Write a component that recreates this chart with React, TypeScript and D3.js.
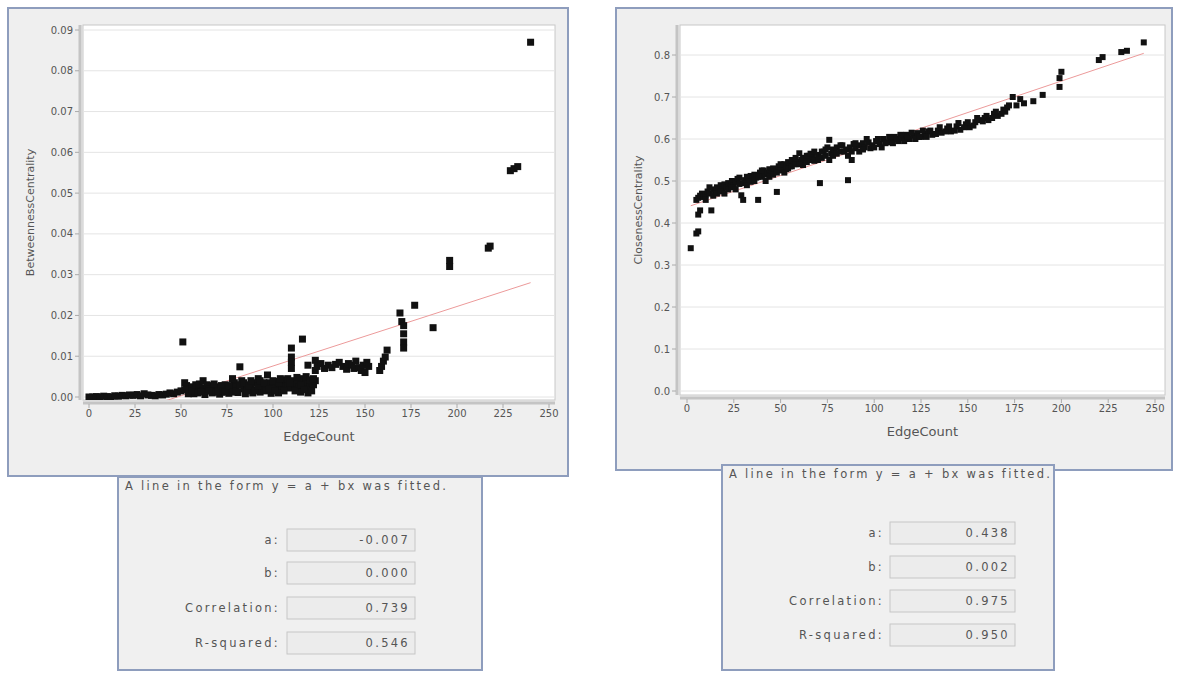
import React from "react";
import * as d3 from "d3";

// EdgeCount vs BetweennessCentrality
const betweenness: [number, number][] = [
  [0, 0], [2, 0], [4, 0.0001], [6, 0], [8, 0.0002], [10, 0.0001], [12, 0], [14, 0.0003],
  [16, 0.0002], [18, 0.0004], [20, 0.0003], [22, 0.0005], [24, 0.0004], [26, 0.0006],
  [28, 0.0003], [30, 0.0008], [32, 0.0005], [34, 0.0004], [36, 0.0003], [38, 0.0006],
  [40, 0.0005], [42, 0.0007], [44, 0.001], [46, 0.0008], [48, 0.0012], [50, 0.0015],
  [51, 0.0135], [52, 0.0035], [53, 0.0028], [54, 0.002], [55, 0.0012], [56, 0.0025],
  [57, 0.0008], [58, 0.0018], [60, 0.002], [62, 0.0022], [63, 0.0006], [64, 0.0015],
  [66, 0.0028], [67, 0.001], [68, 0.002], [70, 0.0025], [71, 0.0007], [72, 0.0012],
  [74, 0.003], [75, 0.0018], [76, 0.0009], [77, 0.002], [79, 0.0035], [80, 0.0025],
  [81, 0.0011], [82, 0.0074], [83, 0.004], [84, 0.002], [85, 0.0008], [86, 0.003],
  [88, 0.0025], [89, 0.001], [90, 0.0035], [91, 0.0018], [92, 0.0045], [93, 0.0012],
  [94, 0.003], [95, 0.0022], [96, 0.003], [97, 0.0054], [98, 0.0035], [99, 0.0009],
  [100, 0.0025], [101, 0.003], [102, 0.0038], [103, 0.001], [104, 0.002], [105, 0.0028],
  [106, 0.0035], [107, 0.0042], [108, 0.003], [109, 0.0022], [110, 0.012], [110, 0.0098],
  [110, 0.0085], [110, 0.007], [111, 0.004], [112, 0.003], [113, 0.0035], [114, 0.0025],
  [115, 0.0012], [116, 0.0142], [116, 0.0045], [117, 0.003], [118, 0.0038], [119, 0.0078],
  [119, 0.001], [120, 0.0025], [121, 0.0035], [122, 0.003], [123, 0.004], [123, 0.0065],
  [52, 0.0018], [54, 0.0008], [56, 0.0015], [58, 0.003], [59, 0.001], [60, 0.0032],
  [61, 0.0012], [62, 0.004], [64, 0.003], [65, 0.002], [66, 0.0015], [68, 0.0032],
  [69, 0.0012], [70, 0.0015], [72, 0.0028], [73, 0.0015], [74, 0.0012], [76, 0.0028],
  [78, 0.0012], [78, 0.0045], [80, 0.0015], [82, 0.003], [84, 0.0035], [86, 0.0015],
  [87, 0.0028], [88, 0.004], [90, 0.0015], [92, 0.0028], [93, 0.004], [95, 0.0035],
  [96, 0.0015], [98, 0.002], [100, 0.004], [101, 0.0015], [103, 0.0035], [104, 0.0045],
  [106, 0.0015], [108, 0.0045], [109, 0.0035], [112, 0.0015], [113, 0.0048], [115, 0.003],
  [117, 0.0018], [118, 0.005], [120, 0.0042], [121, 0.0015], [122, 0.0045],
  [123, 0.009], [124, 0.0075], [126, 0.0082], [128, 0.007], [130, 0.0078], [132, 0.0072],
  [134, 0.008], [136, 0.0085], [138, 0.0075], [140, 0.0068], [141, 0.0082], [143, 0.0078],
  [144, 0.007], [145, 0.0088], [147, 0.0072], [148, 0.0065], [149, 0.0078], [150, 0.006],
  [151, 0.0085], [152, 0.0075], [158, 0.0065], [159, 0.0075], [160, 0.0088], [161, 0.0098],
  [162, 0.0115], [169, 0.0206], [170, 0.0185], [171, 0.0175], [171, 0.0155], [171, 0.0135],
  [171, 0.012], [177, 0.0225], [187, 0.017], [196, 0.032], [196, 0.0335], [217, 0.0365],
  [218, 0.037], [229, 0.0555], [231, 0.056], [233, 0.0565], [240, 0.087],
];

// EdgeCount vs ClosenessCentrality
const closeness: [number, number][] = [
  [2, 0.34], [5, 0.375], [6, 0.38], [6, 0.42], [7, 0.43], [5, 0.455], [6, 0.46], [7, 0.465],
  [8, 0.47], [9, 0.462], [10, 0.468], [11, 0.475], [12, 0.47], [13, 0.43], [14, 0.48],
  [15, 0.472], [16, 0.485], [17, 0.478], [18, 0.49], [19, 0.48], [20, 0.492], [21, 0.485],
  [22, 0.495], [23, 0.488], [24, 0.5], [25, 0.49], [26, 0.498], [27, 0.505], [28, 0.493],
  [29, 0.466], [30, 0.455], [31, 0.502], [32, 0.51], [33, 0.5], [34, 0.512], [35, 0.505],
  [36, 0.515], [37, 0.508], [38, 0.455], [39, 0.52], [40, 0.51], [41, 0.525], [42, 0.515],
  [43, 0.52], [44, 0.528], [45, 0.518], [46, 0.53], [47, 0.522], [48, 0.474], [49, 0.535],
  [50, 0.525], [51, 0.532], [52, 0.54], [53, 0.528], [54, 0.545], [55, 0.535], [56, 0.55],
  [57, 0.54], [58, 0.555], [59, 0.545], [60, 0.566], [61, 0.55], [62, 0.538], [63, 0.555],
  [64, 0.545], [65, 0.56], [66, 0.55], [67, 0.558], [68, 0.548], [70, 0.562], [71, 0.495],
  [72, 0.555], [73, 0.57], [74, 0.56], [75, 0.58], [76, 0.598], [77, 0.565], [78, 0.575],
  [79, 0.568], [80, 0.58], [82, 0.57], [83, 0.585], [85, 0.575], [86, 0.502], [87, 0.58],
  [88, 0.55], [89, 0.588], [90, 0.578], [92, 0.585], [94, 0.59], [95, 0.58], [97, 0.592],
  [99, 0.585], [101, 0.595], [103, 0.588], [105, 0.6], [107, 0.592], [109, 0.598],
  [111, 0.605], [113, 0.595], [115, 0.602], [117, 0.61], [119, 0.6], [121, 0.608],
  [123, 0.614], [125, 0.605], [127, 0.612], [129, 0.618], [131, 0.61], [134, 0.62],
  [136, 0.615], [139, 0.625], [141, 0.618], [144, 0.63], [146, 0.622], [149, 0.635],
  [151, 0.628], [154, 0.64], [156, 0.645], [159, 0.65], [161, 0.645], [164, 0.66],
  [166, 0.655], [169, 0.67], [171, 0.675], [174, 0.7], [176, 0.68], [178, 0.695],
  [180, 0.685], [185, 0.69], [190, 0.705], [199, 0.724], [199, 0.745], [200, 0.76],
  [220, 0.788], [222, 0.795], [232, 0.807], [235, 0.81], [244, 0.83],
  [10, 0.455], [12, 0.485], [14, 0.465], [16, 0.47], [18, 0.475], [20, 0.47], [22, 0.48],
  [24, 0.485], [26, 0.48], [28, 0.508], [30, 0.495], [32, 0.49], [34, 0.498], [36, 0.5],
  [38, 0.51], [40, 0.525], [42, 0.5], [44, 0.51], [46, 0.515], [48, 0.52], [50, 0.54],
  [52, 0.52], [54, 0.53], [56, 0.535], [58, 0.54], [60, 0.54], [62, 0.555], [64, 0.56],
  [66, 0.565], [68, 0.57], [70, 0.55], [72, 0.57], [74, 0.575], [76, 0.55], [78, 0.56],
  [80, 0.565], [82, 0.585], [84, 0.57], [86, 0.56], [88, 0.57], [90, 0.59], [92, 0.57],
  [94, 0.575], [96, 0.6], [98, 0.578], [100, 0.58], [102, 0.6], [104, 0.58], [106, 0.59],
  [108, 0.605], [110, 0.59], [112, 0.6], [114, 0.61], [116, 0.595], [118, 0.605],
  [120, 0.615], [122, 0.6], [124, 0.605], [126, 0.62], [128, 0.605], [130, 0.62],
  [133, 0.612], [135, 0.628], [138, 0.618], [140, 0.63], [143, 0.62], [145, 0.638],
  [148, 0.628], [150, 0.64], [153, 0.632], [155, 0.65], [158, 0.642], [160, 0.655],
  [163, 0.65], [165, 0.665], [168, 0.66], [170, 0.665], [172, 0.68],
];

const xTicks = [0, 25, 50, 75, 100, 125, 150, 175, 200, 225, 250];
const betweennessTicks = [0, 0.01, 0.02, 0.03, 0.04, 0.05, 0.06, 0.07, 0.08, 0.09];
const closenessTicks = [0, 0.1, 0.2, 0.3, 0.4, 0.5, 0.6, 0.7, 0.8];

// fitted line y = a + bx
const betweennessFit = { a: -0.007, b: 0.000146 };
const closenessFit = { a: 0.438, b: 0.0015 };

const fitLabels = ["a:", "b:", "Correlation:", "R-squared:"];
const betweennessStats = ["-0.007", "0.000", "0.739", "0.546"];
const closenessStats = ["0.438", "0.002", "0.975", "0.950"];

const FONT = "'DejaVu Sans', sans-serif";
const BORDER = "#8e9dbd";
const TEXT = "#555";

type PanelProps = {
  panel: { x: number; y: number; w: number; h: number };
  plot: { x: number; y: number; w: number; h: number };
  xRange: [number, number];
  yRange: [number, number];
  yDomainMax: number;
  yTicks: number[];
  yFormat: string;
  data: [number, number][];
  fit: { a: number; b: number };
  yTitle: string;
  size: number;
};

function ScatterPanel(p: PanelProps) {
  const x = d3.scaleLinear().domain([0, 250]).range(p.xRange);
  const y = d3.scaleLinear().domain([0, p.yDomainMax]).range(p.yRange);
  const fmt = d3.format(p.yFormat);
  const bottom = p.plot.y + p.plot.h;
  const x0 = d3.min(p.data, (d) => d[0]) as number;
  const x1 = d3.max(p.data, (d) => d[0]) as number;
  const line = d3
    .line<number>()
    .x((v) => x(v))
    .y((v) => y(p.fit.a + p.fit.b * v));
  const clipId = "clip" + p.panel.x;
  return (
    <g>
      <rect x={p.panel.x} y={p.panel.y} width={p.panel.w} height={p.panel.h}
        fill="#efefef" stroke={BORDER} strokeWidth={2} />
      <defs>
        <clipPath id={clipId}>
          <rect x={p.plot.x} y={p.plot.y} width={p.plot.w} height={p.plot.h} />
        </clipPath>
      </defs>
      <rect x={p.plot.x} y={p.plot.y} width={p.plot.w} height={p.plot.h}
        fill="#fff" stroke="#c8c8c8" />
      {p.yTicks.map((t) => (
        <line key={t} x1={p.plot.x} x2={p.plot.x + p.plot.w} y1={y(t)} y2={y(t)}
          stroke="#e4e4e4" />
      ))}
      {/* axes */}
      <line x1={p.plot.x} x2={p.plot.x + p.plot.w} y1={bottom + 3} y2={bottom + 3}
        stroke="#c4c4c4" strokeWidth={3} />
      <line x1={p.plot.x - 3} x2={p.plot.x - 3} y1={p.plot.y} y2={bottom}
        stroke="#c4c4c4" strokeWidth={3} />
      {xTicks.map((t) => (
        <g key={t}>
          <line x1={x(t)} x2={x(t)} y1={bottom + 4} y2={bottom + 8} stroke="#aaa" />
          <text x={x(t)} y={bottom + 17} textAnchor="middle" fontSize={10}
            fontFamily={FONT} fill={TEXT}>{t}</text>
        </g>
      ))}
      {p.yTicks.map((t) => (
        <g key={t}>
          <line x1={p.plot.x - 8} x2={p.plot.x - 4} y1={y(t)} y2={y(t)} stroke="#aaa" />
          <text x={p.plot.x - 10} y={y(t) + 3.5} textAnchor="end" fontSize={10}
            fontFamily={FONT} fill={TEXT}>{fmt(t)}</text>
        </g>
      ))}
      <g clipPath={`url(#${clipId})`}>
        <path d={line([x0, x1]) ?? ""} fill="none" stroke="#ec9a9a" strokeWidth={1} />
        {p.data.map((d, i) => (
          <rect key={i} x={x(d[0]) - p.size / 2} y={y(d[1]) - p.size / 2}
            width={p.size} height={p.size} fill="#111" />
        ))}
      </g>
      <text x={(p.plot.x + p.plot.x + p.plot.w) / 2} y={bottom + 41} textAnchor="middle"
        fontSize={13} fontFamily={FONT} fill={TEXT}>EdgeCount</text>
      <text transform={`translate(${p.panel.x + 26},${(p.plot.y + bottom) / 2}) rotate(-90)`}
        textAnchor="middle" fontSize={11} fontFamily={FONT} fill={TEXT}>{p.yTitle}</text>
    </g>
  );
}

type BoxProps = {
  x: number; y: number; w: number; h: number;
  labelX: number; fieldX: number; fieldW: number; rowY: number[]; values: string[];
};

function FitBox(b: BoxProps) {
  return (
    <g fontFamily={FONT} fontSize={11.5} fill={TEXT} letterSpacing={2.3}>
      <rect x={b.x} y={b.y} width={b.w} height={b.h} fill="#f0f0f0" stroke={BORDER} strokeWidth={2} />
      <text x={b.x + 7} y={b.y + 13}>A line in the form y = a + bx was fitted.</text>
      {fitLabels.map((l, i) => (
        <g key={l}>
          <text x={b.labelX} y={b.rowY[i] + 4} textAnchor="end">{l}</text>
          <rect x={b.fieldX} y={b.rowY[i] - 11} width={b.fieldW} height={22}
            fill="#ececec" stroke="#c6c6c6" />
          <text x={b.fieldX + b.fieldW - 5} y={b.rowY[i] + 4} textAnchor="end">{b.values[i]}</text>
        </g>
      ))}
    </g>
  );
}

export default function App() {
  return (
    <svg width={1178} height={673} style={{ position: "absolute", left: 0, top: 0, background: "#fff" }}>
      <ScatterPanel
        panel={{ x: 8, y: 8, w: 560, h: 468 }}
        plot={{ x: 83, y: 25, w: 472, h: 375 }}
        xRange={[89, 549]}
        yRange={[397, 30]}
        yDomainMax={0.09}
        yTicks={betweennessTicks}
        yFormat=".2f"
        data={betweenness}
        fit={betweennessFit}
        yTitle="BetweennessCentrality"
        size={7}
      />
      <ScatterPanel
        panel={{ x: 616, y: 8, w: 556, h: 462 }}
        plot={{ x: 680, y: 25, w: 485, h: 370 }}
        xRange={[687, 1155]}
        yRange={[391, 55]}
        yDomainMax={0.8}
        yTicks={closenessTicks}
        yFormat=".1f"
        data={closeness}
        fit={closenessFit}
        yTitle="ClosenessCentrality"
        size={6}
      />
      <FitBox x={118} y={477} w={364} h={193} labelX={280} fieldX={287} fieldW={128}
        rowY={[540, 573, 608, 643]} values={betweennessStats} />
      <FitBox x={722} y={465} w={332} h={205} labelX={884} fieldX={890} fieldW={125}
        rowY={[533, 567, 601, 635]} values={closenessStats} />
    </svg>
  );
}
